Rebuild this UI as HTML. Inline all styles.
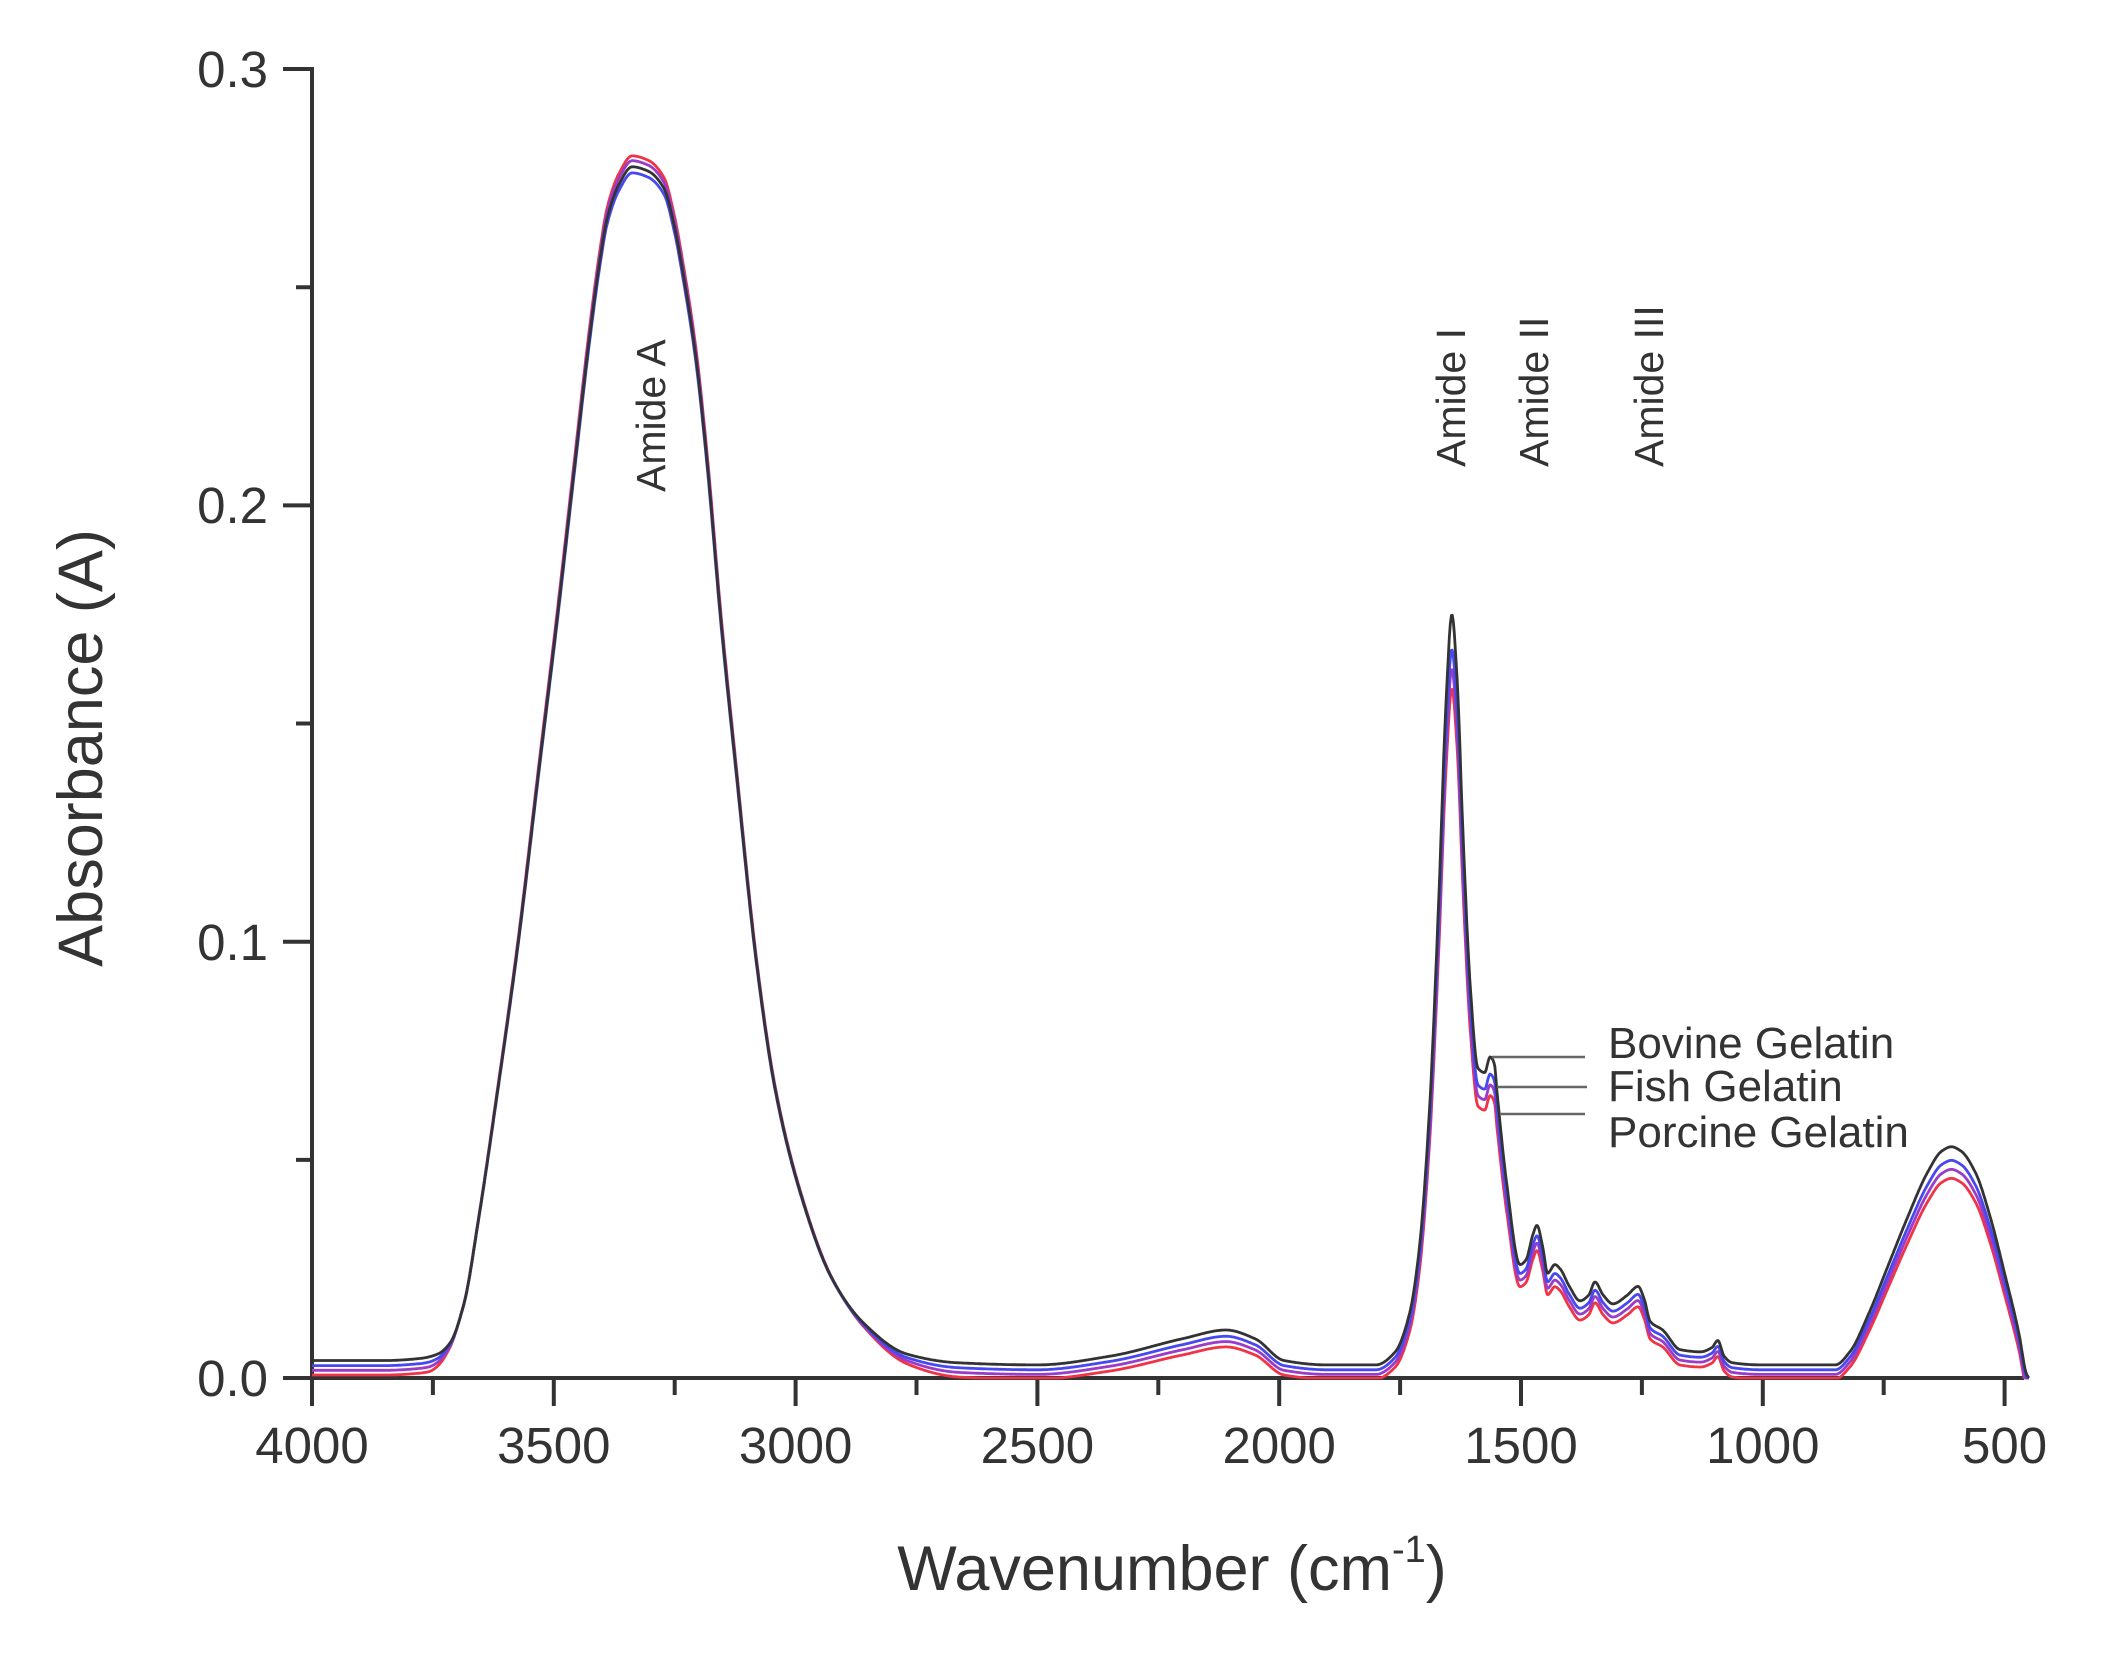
<!DOCTYPE html>
<html><head><meta charset="utf-8"><style>
html,body{margin:0;padding:0;background:#fff}
svg{display:block}
text{font-family:"Liberation Sans",Arial,sans-serif;fill:#333}
</style></head><body>
<svg id="s" width="2102" height="1656" viewBox="0 0 2102 1656" xmlns="http://www.w3.org/2000/svg">
<g stroke="#333" stroke-width="4" fill="none">
<path d="M312 67 V1406 M283 69 H312 M283 1378 H2024"/>
<path d="M283 505.4 H312 M283 941.7 H312 M296 287.2 H312 M296 723.5 H312 M296 1159.9 H312"/>
<path d="M553.8 1378 V1406 M795.6 1378 V1406 M1037.4 1378 V1406 M1279.2 1378 V1406 M1521 1378 V1406 M1762.8 1378 V1406 M2004.6 1378 V1406"/>
<path d="M432.9 1378 V1395 M674.7 1378 V1395 M916.5 1378 V1395 M1158.3 1378 V1395 M1400.1 1378 V1395 M1641.9 1378 V1395 M1883.7 1378 V1395"/>
</g>
<g font-size="51" text-anchor="end">
<text x="268" y="87">0.3</text><text x="268" y="523">0.2</text><text x="268" y="960">0.1</text><text x="268" y="1396">0.0</text>
</g>
<g font-size="51" text-anchor="middle">
<text x="312" y="1463">4000</text><text x="553.8" y="1463">3500</text><text x="795.6" y="1463">3000</text><text x="1037.4" y="1463">2500</text><text x="1279.2" y="1463">2000</text><text x="1521" y="1463">1500</text><text x="1762.8" y="1463">1000</text><text x="2004.6" y="1463">500</text>
</g>
<text font-size="63" text-anchor="middle" transform="translate(102 748) rotate(-90)">Absorbance (A)</text>
<text font-size="63" x="1172" y="1590" text-anchor="middle">Wavenumber (cm<tspan font-size="38" dy="-28">-1</tspan><tspan dy="28">)</tspan></text>
<g font-size="41">
<text transform="translate(665 492) rotate(-90)">Amide A</text>
<text transform="translate(1465 467) rotate(-90)">Amide I</text>
<text transform="translate(1548 467) rotate(-90)">Amide II</text>
<text transform="translate(1663 467) rotate(-90)">Amide III</text>
</g>
<g id="curves" fill="none" stroke-width="2.8" stroke-linejoin="round"></g>
<g stroke="#666" stroke-width="2.5"><path d="M1492 1057 H1585 M1497 1087 H1587 M1500 1114 H1585"/></g>
<g font-size="44">
<text x="1608" y="1058">Bovine Gelatin</text>
<text x="1608" y="1101">Fish Gelatin</text>
<text x="1608" y="1147">Porcine Gelatin</text>
</g>
</svg>
<script>
function X(w){return 312+(4000-w)*0.4836;}
function Y(a){return 1378-a*4363;}
var T=[[4000,.004],[3850,.004],[3775,.0045],[3740,.0055],[3715,.008],[3686,.017],[3655,.037],[3619,.064],[3574,.100],[3531,.140],[3494,.174],[3456,.211],[3427,.239],[3404,.258],[3390,.267],[3365,.275],[3338,.279],[3305,.278],[3272,.274],[3250,.265],[3235,.256],[3206,.235],[3183,.211],[3154,.174],[3123,.14],[3080,.095],[3043,.067],[2991,.043],[2925,.023],[2859,.0126],[2770,.0055],[2666,.0035],[2500,.003],[2350,.005],[2200,.009],[2110,.011],[2050,.009],[1990,.004],[1900,.003],[1800,.003],[1760,.006],[1730,.015],[1710,.03],[1690,.06],[1670,.11],[1655,.155],[1643,.175],[1632,.16],[1620,.125],[1605,.09],[1589,.071],[1575,.07],[1564,.0736],[1555,.072],[1550,.066],[1530,.045],[1502,.026],[1490,.027],[1475,.033],[1467,.035],[1455,.03],[1445,.024],[1430,.026],[1419,.025],[1400,.021],[1378,.0177],[1360,.019],[1347,.022],[1330,.019],[1310,.017],[1280,.019],[1258,.021],[1245,.018],[1233,.013],[1207,.011],[1171,.0065],[1129,.006],[1105,.007],[1093,.0086],[1080,.005],[1063,.0035],[1000,.003],[900,.003],[850,.003],[820,.006],[780,.015],[740,.026],[700,.037],[660,.047],[630,.052],[610,.053],[590,.052],[560,.047],[530,.037],[500,.024],[470,.01],[455,.001],[450,0]];
var n=T.length,xs=[],ys=[],m=[],d=[];
for(var i=0;i<n;i++){xs.push(-T[i][0]);ys.push(T[i][1]);}
for(var i=0;i<n-1;i++)d.push((ys[i+1]-ys[i])/(xs[i+1]-xs[i]));
m[0]=d[0];m[n-1]=d[n-2];
for(var i=1;i<n-1;i++){if(d[i-1]*d[i]<=0)m[i]=0;else{var h0=xs[i]-xs[i-1],h1=xs[i+1]-xs[i];m[i]=3*(h0+h1)/((2*h1+h0)/d[i-1]+(h1+2*h0)/d[i]);}}
function base(w){var x=-w;var i=0;while(i<n-2&&x>xs[i+1])i++;var h=xs[i+1]-xs[i],t=(x-xs[i])/h;
 var t2=t*t,t3=t2*t;return (2*t3-3*t2+1)*ys[i]+(t3-2*t2+t)*h*m[i]+(-2*t3+3*t2)*ys[i+1]+(t3-t2)*h*m[i+1];}
function ss(a,b,x){var t=Math.min(1,Math.max(0,(x-a)/(b-a)));return t*t*(3-2*t);}
function mk(k,off,hi){return function(w){var b=base(w);
 var s=ss(2650,2950,w)*(1-ss(3690,3760,w));
 var K=k+(hi-k)*s, O=off*(1-s);
 var v=b*K-O; if(w<470)v=Math.min(v,b*k);return Math.max(v,0);};}
var S=[
 {c:"#f03448",f:mk(0.92,0.003,1.004)},
 {c:"#9a3cc8",f:mk(0.94,0.002,1.0)},
 {c:"#4848f0",f:mk(0.96,0.001,0.99)},
 {c:"#333333",f:mk(1,0,0.995)}
];
var G=document.getElementById("curves"),ns="http://www.w3.org/2000/svg";
S.forEach(function(s){var d="";for(var w=4000;w>=450;w-=2){d+=(w==4000?"M":"L")+X(w).toFixed(1)+" "+Y(s.f(w)).toFixed(1);}
 var p=document.createElementNS(ns,"path");p.setAttribute("d",d);p.setAttribute("stroke",s.c);G.appendChild(p);});
</script>
</body></html>
